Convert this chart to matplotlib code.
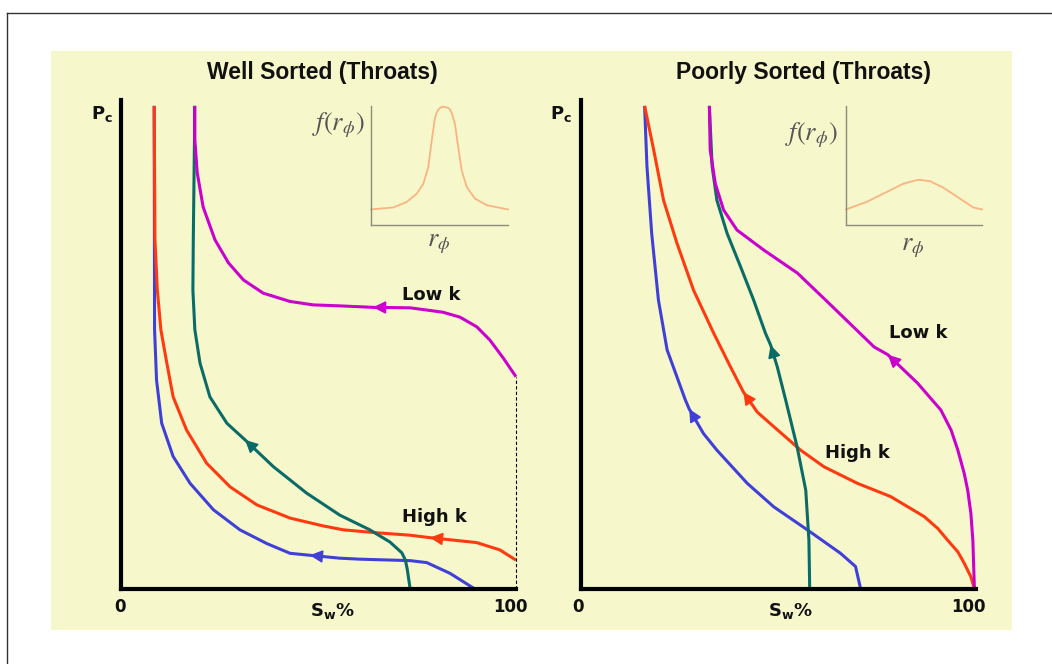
import matplotlib
matplotlib.use("Agg")
import matplotlib.pyplot as plt
from matplotlib.lines import Line2D
from matplotlib.patches import Rectangle


W, H = 1052, 664

# Sw % (x) and Pc (y, 0..100)
# ---- well sorted ----
well_low_x = [18.7, 18.7, 19.3, 20.8, 23.8, 27.2, 31.0, 36.0, 42.8, 48.7, 55.4, 63.8, 73.2, 81.5, 85.8, 90.1, 93.4, 96.8, 100.0]
well_low_y = [98.8, 91.8, 85.1, 78.1, 71.4, 66.7, 63.2, 60.5, 58.8, 58.1, 57.9, 57.6, 57.5, 56.6, 55.6, 53.6, 50.9, 47.2, 43.4]

well_teal_x = [18.6, 18.6, 18.3, 18.2, 18.7, 20.0, 22.5, 26.8, 31.4, 38.6, 47.0, 55.4, 63.0, 68.1, 71.1, 72.0, 72.5, 73.2]
well_teal_y = [98.8, 91.8, 71.4, 61.1, 53.0, 46.2, 39.3, 33.9, 30.5, 25.0, 19.6, 15.1, 12.1, 9.6, 7.4, 5.9, 3.9, 0.0]

well_red_x = [8.4, 8.6, 9.2, 10.1, 11.6, 13.2, 16.6, 21.7, 27.6, 34.4, 42.8, 51.2, 56.3, 64.7, 73.2, 78.2, 90.0, 95.9, 100.0]
well_red_y = [98.8, 71.4, 61.1, 53.0, 46.2, 39.3, 32.5, 25.7, 20.9, 17.2, 14.5, 12.9, 12.1, 11.5, 11.0, 10.5, 9.5, 8.0, 5.9]

well_blue_x = [8.4, 8.5, 9.0, 10.3, 13.2, 17.5, 23.4, 30.1, 36.9, 42.8, 47.8, 55.4, 60.5, 73.2, 77.4, 83.3, 89.6]
well_blue_y = [98.8, 53.0, 42.7, 33.9, 27.1, 21.6, 16.2, 12.1, 9.3, 7.3, 6.9, 6.3, 6.1, 5.8, 5.4, 3.2, 0.0]

# ---- poorly sorted ----
poor_low_x = [32.5, 32.7, 34.0, 36.1, 39.5, 46.3, 54.8, 63.2, 74.2, 77.7, 85.2, 91.1, 93.7, 95.4, 97.0, 97.9, 98.7, 99.2, 99.6]
poor_low_y = [98.8, 89.8, 82.9, 77.5, 73.4, 69.3, 64.6, 58.1, 49.5, 47.9, 42.1, 36.6, 32.5, 28.4, 23.7, 20.2, 15.5, 10.0, 0.0]

poor_teal_x = [32.5, 33.2, 34.4, 37.0, 40.4, 43.7, 46.7, 48.0, 49.7, 51.8, 54.7, 56.9, 57.7, 57.9]
poor_teal_y = [98.8, 86.4, 79.5, 72.7, 65.9, 59.1, 52.3, 49.9, 45.4, 38.7, 29.1, 20.2, 10.0, 0.0]

poor_red_x = [16.1, 18.4, 20.9, 24.3, 28.5, 33.6, 37.8, 41.1, 44.6, 48.8, 55.6, 61.5, 70.0, 78.4, 86.9, 90.3, 92.8, 95.4, 97.0, 98.7, 99.6]
poor_red_y = [98.8, 89.8, 79.5, 70.7, 61.1, 52.3, 45.5, 40.3, 36.2, 33.2, 28.4, 25.0, 21.6, 18.9, 14.8, 12.4, 10.0, 7.6, 5.3, 2.5, 0.0]

poor_blue_x = [16.1, 16.7, 17.9, 19.6, 21.8, 26.4, 27.4, 31.0, 34.4, 42.1, 48.8, 57.3, 65.7, 69.5, 70.8]
poor_blue_y = [98.8, 86.4, 72.7, 59.1, 48.9, 38.7, 36.8, 31.8, 28.4, 21.6, 16.8, 12.1, 7.3, 4.6, 0.0]

# index of the point where each arrow head sits
well_arrows = {"blue": 10, "red": 15, "teal": 8, "low": 11}
poor_arrows = {"blue": 6, "red": 7, "teal": 7, "low": 9}

# pore throat size distributions (insets)
well_dist_x = [0, 16.3, 26.1, 33.4, 38.2, 41.8, 44.3, 46.7, 48.5, 50.4, 52.2, 54.0, 56.0, 57.7, 59.5, 61.3, 63.7, 66.2, 69.9, 75.9, 84.5, 100]
well_dist_y = [13.2, 14.9, 19.6, 26.6, 35.0, 49.0, 71.4, 91.0, 96.8, 99.4, 100.4, 100.0, 99.6, 98.1, 93.0, 85.5, 65.8, 46.2, 32.2, 22.4, 16.8, 13.2]
poor_dist_x = [0, 15.2, 29.9, 42.1, 53.2, 61.8, 71.5, 83.8, 93.6, 100]
poor_dist_y = [13.2, 19.6, 28.0, 35.0, 38.4, 37.2, 31.7, 22.4, 14.9, 13.2]

MAGENTA = "#cc00cc"
TEAL = "#0b6b66"
RED = "#ff3a10"
BLUE = "#4040d8"
YELLOW = "#f6f8cc"
PEACH = "#f9b482"


def fx(px):
    return px / W


def fy(py):
    return 1 - py / H


def draw_curve(ax, xs, ys, color, arrow_at):
    ax.plot(xs, ys, color=color, lw=2.2, solid_joinstyle="round",
            solid_capstyle="butt", clip_on=False)
    i = arrow_at
    ax.annotate("", xy=(xs[i], ys[i]), xytext=(xs[i + 1], ys[i + 1]),
                arrowprops=dict(arrowstyle="-|>", color=color, lw=1.2,
                                mutation_scale=19, shrinkA=0, shrinkB=0))


def main_axes(fig, left_px):
    ax = fig.add_axes([fx(left_px), fy(589), fx(395), 489 / H])
    ax.set_xlim(0, 100)
    ax.set_ylim(0, 100)
    ax.patch.set_alpha(0)
    for s in ["top", "right"]:
        ax.spines[s].set_visible(False)
    for s in ["left", "bottom"]:
        ax.spines[s].set_linewidth(3.0)
        ax.spines[s].set_color("black")
        ax.spines[s].set_capstyle("projecting")
    ax.set_xticks([])
    ax.set_yticks([])
    return ax


def inset_axes(fig, left_px, width_px, xs, ys):
    ax = fig.add_axes([fx(left_px), fy(225), width_px / W, 119 / H])
    ax.set_xlim(0, 100)
    ax.set_ylim(0, 101)
    ax.patch.set_alpha(0)
    for s in ["top", "right"]:
        ax.spines[s].set_visible(False)
    for s in ["left", "bottom"]:
        ax.spines[s].set_linewidth(1.0)
        ax.spines[s].set_color("#8c8c7c")
    ax.set_xticks([])
    ax.set_yticks([])
    ax.plot(xs, ys, color=PEACH, lw=1.3, clip_on=False, solid_joinstyle="round")
    return ax


plt.rcParams["mathtext.fontset"] = "stix"

fig = plt.figure(figsize=(W / 100, H / 100), dpi=100)
fig.patch.set_facecolor("white")

# yellow slide panel and outer frame
fig.add_artist(Rectangle((fx(51), fy(630)), fx(961), 579 / H,
                         transform=fig.transFigure, facecolor=YELLOW,
                         edgecolor="none", zorder=-5))
fig.add_artist(Line2D([fx(7), 1], [fy(13), fy(13)], color="#333333", lw=1.0))
fig.add_artist(Line2D([fx(7), fx(7)], [0, fy(13)], color="#333333", lw=1.0))

ax1 = main_axes(fig, 121)
ax2 = main_axes(fig, 581)

# well sorted
draw_curve(ax1, well_blue_x, well_blue_y, BLUE, well_arrows["blue"])
draw_curve(ax1, well_red_x, well_red_y, RED, well_arrows["red"])
draw_curve(ax1, well_teal_x, well_teal_y, TEAL, well_arrows["teal"])
draw_curve(ax1, well_low_x, well_low_y, MAGENTA, well_arrows["low"])
ax1.plot([100, 100], [0, well_low_y[-1]], color="black", lw=0.8,
         ls=(0, (3, 2)), clip_on=False)

# poorly sorted
draw_curve(ax2, poor_blue_x, poor_blue_y, BLUE, poor_arrows["blue"])
draw_curve(ax2, poor_red_x, poor_red_y, RED, poor_arrows["red"])
draw_curve(ax2, poor_teal_x, poor_teal_y, TEAL, poor_arrows["teal"])
draw_curve(ax2, poor_low_x, poor_low_y, MAGENTA, poor_arrows["low"])

inset_axes(fig, 371, 137, well_dist_x, well_dist_y)
inset_axes(fig, 846, 136, poor_dist_x, poor_dist_y)

bold = dict(family="DejaVu Sans", fontweight="bold", color="#111111")
title_kw = dict(family="Liberation Sans", fontweight="bold", fontsize=16.5,
                color="#111111", ha="center", va="center")

fig.text(fx(322), fy(72), "Well Sorted (Throats)", **title_kw)
fig.text(fx(803), fy(72), "Poorly Sorted (Throats)", **title_kw)

for x0, x100, sw_x in [(120, 510, 332), (578, 968, 790)]:
    fig.text(fx(x0), fy(607), "0", fontsize=12, ha="center", va="center", **bold)
    fig.text(fx(x100), fy(607), "100", fontsize=12, ha="center", va="center", **bold)
    fig.text(fx(sw_x), fy(611), r"$\mathbf{S_w\%}$", fontsize=13,
             ha="center", va="center", color="#111111",
             math_fontfamily="dejavusans")

for pc_x in [102, 561]:
    fig.text(fx(pc_x), fy(114), r"$\mathbf{P_c}$", fontsize=13,
             ha="center", va="center", color="#111111",
             math_fontfamily="dejavusans")

fig.text(fx(431), fy(295), "Low k", fontsize=13, ha="center", va="center", **bold)
fig.text(fx(434), fy(517), "High k", fontsize=13, ha="center", va="center", **bold)
fig.text(fx(918), fy(333), "Low k", fontsize=13, ha="center", va="center", **bold)
fig.text(fx(857), fy(453), "High k", fontsize=13, ha="center", va="center", **bold)

gray = "#555555"
fig.text(fx(365), fy(125), r"$f(r_\phi)$", fontsize=19, ha="right", va="center", color=gray)
fig.text(fx(838), fy(135), r"$f(r_\phi)$", fontsize=19, ha="right", va="center", color=gray)
fig.text(fx(439), fy(243), r"$r_\phi$", fontsize=19, ha="center", va="center", color=gray)
fig.text(fx(913), fy(247), r"$r_\phi$", fontsize=19, ha="center", va="center", color=gray)

fig.savefig("out.png", dpi=100)
